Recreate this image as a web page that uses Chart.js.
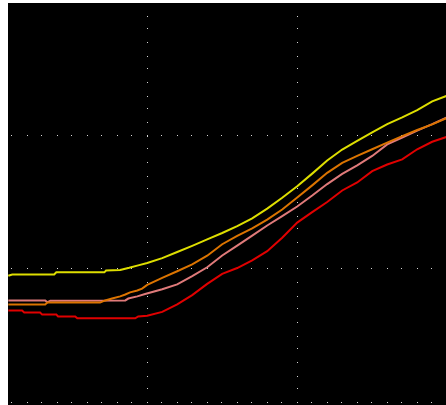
<!DOCTYPE html>
<html>
<head>
<meta charset="utf-8">
<script src="https://cdn.jsdelivr.net/npm/chart.js@4/dist/chart.umd.min.js"></script>
<style>
  html, body { margin: 0; padding: 0; background: #ffffff; }
  #wrap { width: 446px; height: 405px; }
</style>
</head>
<body>
<div id="wrap"><canvas id="c" width="446" height="405"></canvas></div>
<script>
// ---- data (arbitrary units) ----
const xGrid = [50, 100];
const yGrid = [0, 50, 100];

const yellowX = [3.7, 5, 19, 19.7, 35.7, 36.3, 41, 44, 47, 50, 55, 60, 65, 70, 75, 80, 85, 90, 95, 100, 105, 110, 115, 120, 125, 130, 135, 140, 145, 149.7];
const yellowY = [47.4, 47.9, 47.9, 48.7, 48.7, 49.4, 49.6, 50.4, 51.3, 52.2, 54.0, 56.3, 58.6, 61.0, 63.4, 66.0, 68.9, 72.5, 76.6, 80.9, 85.6, 90.5, 94.6, 97.8, 101.0, 104.1, 106.6, 109.3, 112.6, 114.6];

const orangeX = [3.7, 16, 16.7, 34.3, 36, 38.3, 41, 42.7, 44.3, 46.7, 48.3, 50, 55, 60, 65, 70, 75, 80, 85, 90, 95, 100, 105, 110, 115, 120, 125, 130, 135, 140, 145, 149.7];
const orangeY = [36.7, 36.7, 37.4, 37.4, 38.2, 38.9, 39.7, 40.4, 41.2, 41.9, 42.6, 44.0, 46.6, 49.1, 51.7, 54.9, 59.2, 62.3, 65.1, 68.4, 72.2, 76.7, 81.2, 85.9, 89.6, 92.2, 94.7, 97.2, 99.6, 101.9, 104.0, 106.3];

const pinkX = [3.7, 16, 16.7, 17.7, 42.7, 43.7, 46.7, 49.3, 55, 60, 65, 70, 75, 80, 85, 90, 95, 100, 105, 110, 115, 120, 125, 130, 135, 140, 145, 149.7];
const pinkY = [38.2, 38.2, 37.5, 38.1, 38.2, 38.9, 39.7, 40.6, 42.4, 44.2, 47.3, 50.6, 55.0, 58.7, 62.4, 66.2, 69.7, 73.3, 77.4, 81.7, 85.5, 88.7, 92.2, 96.5, 99.1, 101.7, 104.1, 106.5];

const redX = [3.7, 8.3, 9, 14.3, 15, 19.7, 20.3, 26, 26.7, 46, 47, 50, 55, 60, 65, 70, 75, 80, 85, 90, 95, 100, 105, 110, 115, 120, 125, 130, 135, 140, 145, 149.7];
const redY = [34.4, 34.4, 33.7, 33.7, 32.9, 32.9, 32.2, 32.2, 31.5, 31.5, 32.2, 32.5, 33.9, 36.7, 40.2, 44.4, 48.1, 50.3, 53.2, 56.6, 61.6, 67.3, 71.2, 75.0, 79.3, 82.3, 86.5, 89.0, 90.9, 94.7, 97.5, 99.3];

const seriesNames = ['yellow', 'orange', 'pink', 'red'];
const seriesColors = ['#dede00', '#dc7400', '#e07a7a', '#e00000'];

function pts(xs, ys) { return xs.map((x, i) => ({ x: x, y: ys[i] })); }
const allX = [yellowX, orangeX, pinkX, redX];
const allY = [yellowY, orangeY, pinkY, redY];

const blackArea = {
  id: 'blackArea',
  beforeDraw(chart) {
    const { ctx, chartArea: a } = chart;
    ctx.save();
    ctx.fillStyle = '#000000';
    ctx.fillRect(a.left, a.top, a.right - a.left, a.bottom - a.top);
    ctx.restore();
  }
};

new Chart(document.getElementById('c'), {
  type: 'line',
  data: {
    datasets: seriesNames.map((n, i) => ({
      label: n,
      data: pts(allX[i], allY[i]),
      borderColor: seriesColors[i],
      backgroundColor: seriesColors[i],
      borderWidth: 2,
      pointRadius: 0,
      tension: 0,
      fill: false
    }))
  },
  options: {
    responsive: false,
    animation: false,
    layout: { padding: { left: 8, top: 3, right: 0, bottom: 0 } },
    plugins: { legend: { display: false }, tooltip: { enabled: false } },
    scales: {
      x: {
        type: 'linear',
        min: 3.6, max: 149.6,
        afterBuildTicks: (s) => { s.ticks = xGrid.map(v => ({ value: v })); },
        ticks: { display: false },
        grid: { color: '#d4d4d4', lineWidth: 1, drawTicks: false },
        border: { display: false, dash: [1, 11, 1, 13, 1, 13], dashOffset: 27 }
      },
      y: {
        type: 'linear',
        min: -0.897, max: 149.38,
        afterBuildTicks: (s) => { s.ticks = yGrid.map(v => ({ value: v })); },
        ticks: { display: false },
        grid: { color: '#d4d4d4', lineWidth: 1, drawTicks: false },
        border: { display: false, dash: [1, 15, 1, 13], dashOffset: 27 }
      }
    }
  },
  plugins: [blackArea]
});
</script>
</body>
</html>
